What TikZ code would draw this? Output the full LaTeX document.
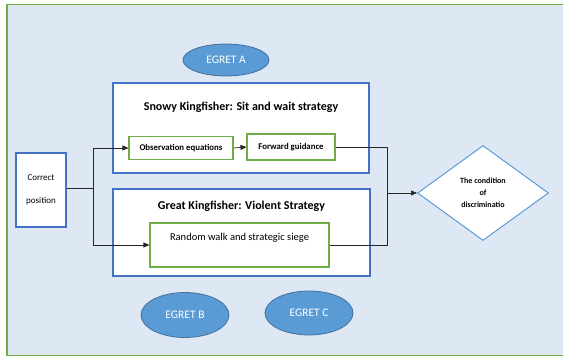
\documentclass[tikz,border=0pt]{standalone}
\usepackage{fontspec}
\setmainfont{Carlito}
\usepackage{tikz}
\usetikzlibrary{positioning, arrows.meta, shapes}

\definecolor{paleblue}{RGB}{222,232,244}
\definecolor{framegreen}{RGB}{112,173,71}
\definecolor{boxblue}{RGB}{68,114,196}
\definecolor{egretblue}{RGB}{91,155,213}
\definecolor{egretrim}{RGB}{65,113,156}

\tikzset{
    bluebox/.style={draw=boxblue, line width=1.1pt, fill=white, inner sep=0pt},
    greenbox/.style={draw=framegreen, line width=1.1pt, fill=white, inner sep=0pt},
    egret/.style={ellipse, draw=egretrim, line width=0.8pt, fill=egretblue,
        text=white, font=\fontsize{11.5}{13}\selectfont, inner sep=0pt},
    link/.style={draw=black!85, line width=0.7pt},
    tip/.style={-{Triangle[length=6pt,width=5pt]}}
}

\begin{document}
\begin{tikzpicture}[x=1pt, y=-1pt]
        \useasboundingbox (0,0) rectangle (563,358);
        \fill[paleblue] (7,4.5) rectangle (563,355.5);
        \draw[framegreen, line width=1.5pt] (563,4.5) -- (7,4.5) -- (7,355.5) -- (563,355.5);

        % egrets
        \node[egret, minimum width=86pt, minimum height=32pt] (egretA) at (226,60) {EGRET A};
        \node[egret, minimum width=88pt, minimum height=45pt] (egretB) at (185,315) {EGRET B};
        \node[egret, minimum width=88pt, minimum height=44pt] (egretC) at (309,313) {EGRET C};

        % start
        \node[bluebox, minimum width=50pt, minimum height=74pt, align=center,
            font=\fontsize{9}{10}\selectfont] (correct) at (41,190) {Correct\\[13pt]position};

        % snowy kingfisher
        \node[bluebox, minimum width=256pt, minimum height=90pt] (snowy) at (241,128) {};
        \node[font=\fontsize{12}{14}\bfseries] (snowytitle) at (241,107) {Snowy Kingfisher: Sit and wait strategy};
        \node[greenbox, minimum width=104pt, minimum height=23pt,
            font=\fontsize{8.8}{10}\bfseries] (obs) at (181,148) {Observation equations};
        \node[greenbox, minimum width=88pt, minimum height=26pt,
            font=\fontsize{8.8}{10}\bfseries] (fwd) at (291,147) {Forward guidance};

        % great kingfisher
        \node[bluebox, minimum width=257pt, minimum height=87pt] (great) at (241.5,232.5) {};
        \node[font=\fontsize{12}{14}\bfseries] (greattitle) at (241.5,206) {Great Kingfisher: Violent Strategy};
        \node[greenbox, minimum width=179pt, minimum height=44pt] (rand) at (239.5,245) {};
        \node[font=\fontsize{10.5}{12}\selectfont] (randtext) at (239.5,238) {Random walk and strategic siege};

        % decision
        \node[diamond, draw=egretblue, line width=1pt, fill=white, inner sep=0pt,
            minimum width=131pt, minimum height=95pt, align=center,
            font=\fontsize{8}{12}\bfseries] (cond) at (483,193) {The condition\\of\\discriminatio};

        % connectors
        \coordinate (split) at (93,188);
        \coordinate (merge) at (387,193);
        \draw[link] (correct.east |- split) -- (split);
        \draw[link, tip] (split) |- (obs.west);
        \draw[link, tip] (split) |- (rand.west);
        \draw[link, tip] (obs.east) -- (fwd.west);
        \draw[link] (fwd.east) -| (merge);
        \draw[link] (rand.east) -| (merge);
        \draw[link, tip] (merge) -- (cond.west);

    \end{tikzpicture}
\end{document}
